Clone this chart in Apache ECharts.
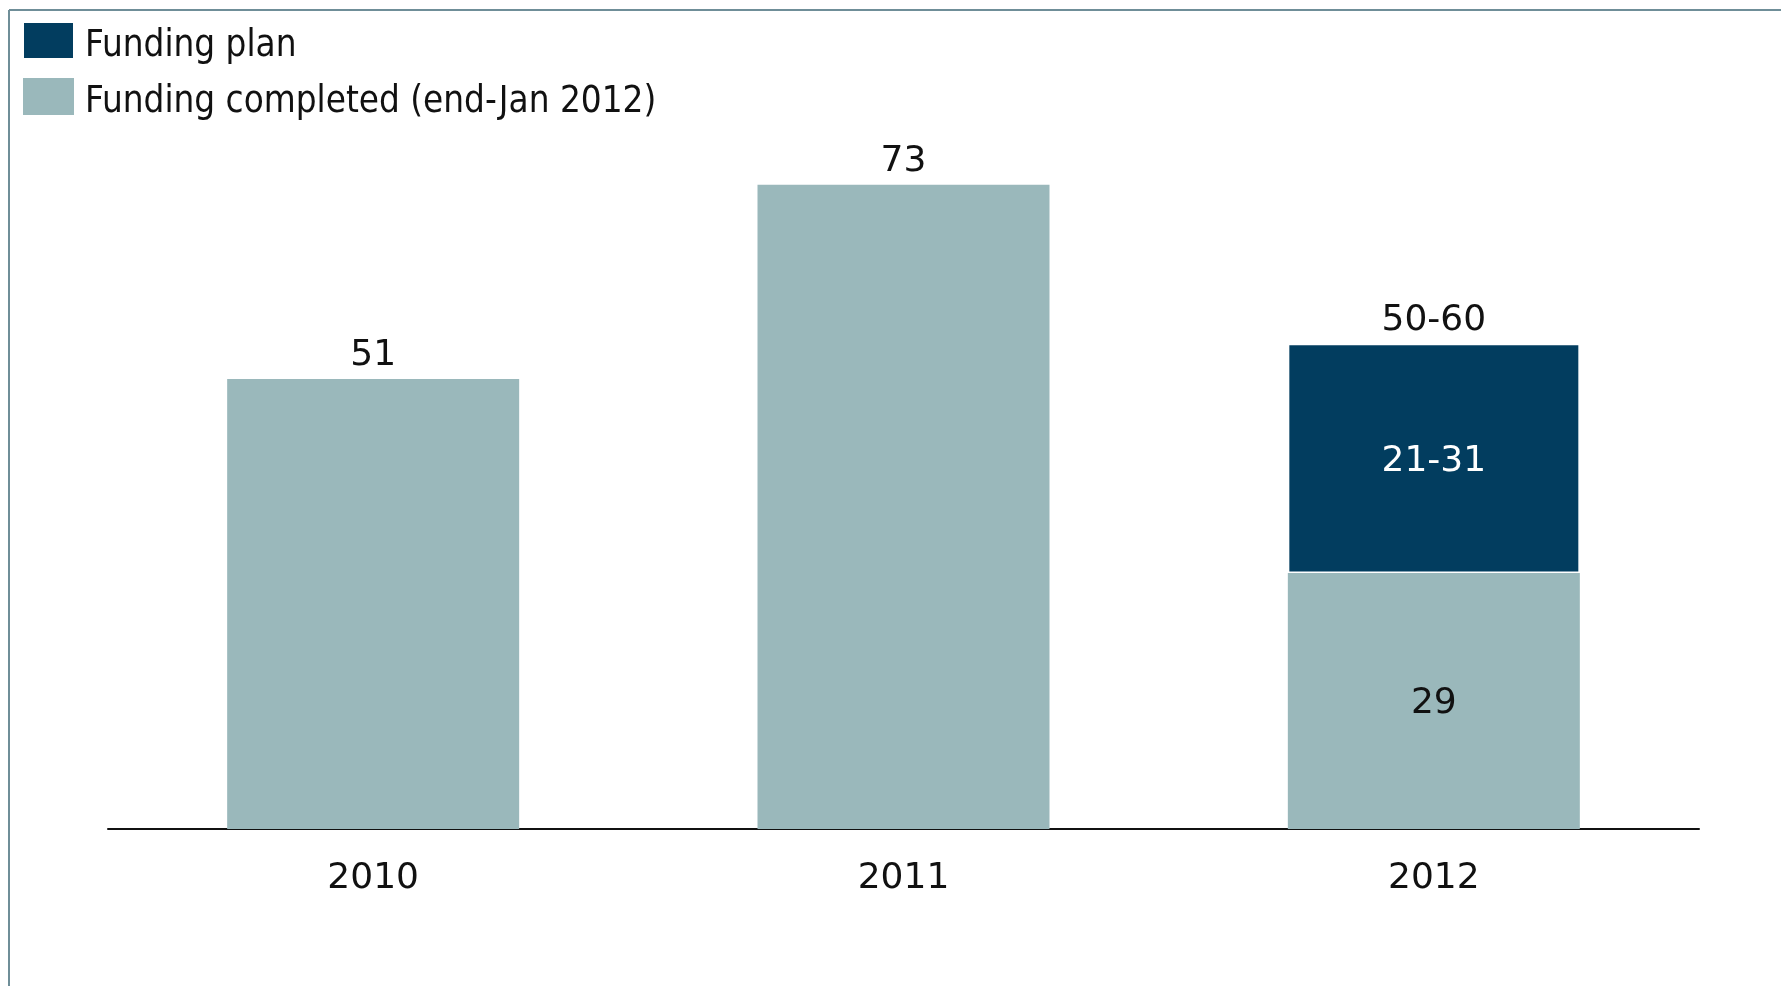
<!DOCTYPE html>
<html>
<head>
<meta charset="utf-8">
<title>Funding plan</title>
<script src="https://cdn.jsdelivr.net/npm/echarts@6/dist/echarts.min.js"></script>
<style>
  html, body { margin: 0; padding: 0; background: #ffffff; }
  #chart { width: 1781px; height: 986px; }
</style>
</head>
<body>
<div id="chart"></div>
<script>
// Years on the category axis
const years = ['2010', '2011', '2012'];
// Funding already completed (end-Jan 2012)
const completed = [51, 73, 29];
// Remaining funding planned for 2012 (range 21-31, bar drawn at 26)
const planned = [null, null, 26];
// Label texts
const completedLabels = ['51', '73', '29'];
const plannedLabels = ['', '', '21-31'];
const totalLabels = ['', '', '50-60'];

const DARK = '#023d5f';
const LIGHT = '#9ab8bb';
const NUM_FONT = '"DejaVu Sans", sans-serif';
const LEGEND_FONT = '"Liberation Sans Narrow", "DejaVu Sans Condensed", "Noto Sans", sans-serif';

const chart = echarts.init(document.getElementById('chart'), null, { renderer: 'canvas' });

const completedData = completed.map((v, i) => ({
  value: v,
  label: {
    show: true,
    position: i === 2 ? 'inside' : 'top',
    distance: 5,
    offset: i === 2 ? [0, 3] : [0, 0],
    formatter: () => completedLabels[i]
  }
}));

const plannedData = planned.map((v, i) => ({
  value: v,
  label: { show: v != null, position: 'inside', offset: [0, 3], formatter: () => plannedLabels[i] }
}));

// zero-height cap on the stack carrying the total range label
const totalData = totalLabels.map((t, i) => ({
  value: t ? 0 : null,
  label: { show: !!t, position: 'top', distance: 5, formatter: () => totalLabels[i] }
}));

chart.setOption({
  animation: false,
  backgroundColor: '#ffffff',
  grid: { left: 108, right: 82, top: 123, bottom: 157, containLabel: false },
  legend: {
    orient: 'vertical',
    left: 17,
    top: 11,
    itemWidth: 51,
    itemHeight: 37,
    itemGap: 7,
    icon: 'rect',
    data: ['Funding plan', 'Funding completed (end-Jan 2012)'],
    formatter: (name) => '{t|' + name + '}',
    textStyle: {
      fontFamily: LEGEND_FONT,
      fontSize: 36.5,
      color: '#111111',
      rich: {
        t: {
          fontFamily: LEGEND_FONT,
          fontSize: 36.5,
          color: '#111111',
          lineHeight: 37,
          padding: [12, 0, 0, 6]
        }
      }
    }
  },
  xAxis: {
    type: 'category',
    data: years,
    axisLine: { show: true, lineStyle: { color: '#111111', width: 2 } },
    axisTick: { show: false },
    axisLabel: { fontFamily: NUM_FONT, fontSize: 36, color: '#111111', margin: 32 }
  },
  yAxis: {
    type: 'value',
    min: 0,
    max: 80,
    show: false,
    splitLine: { show: false }
  },
  series: [
    {
      name: 'Funding completed (end-Jan 2012)',
      type: 'bar',
      stack: 'funding',
      barWidth: 292,
      itemStyle: { color: LIGHT },
      label: { fontFamily: NUM_FONT, fontSize: 36, color: '#111111' },
      data: completedData
    },
    {
      name: 'Funding plan',
      type: 'bar',
      stack: 'funding',
      barWidth: 292,
      itemStyle: { color: DARK, borderColor: '#ffffff', borderWidth: 1.5 },
      label: { fontFamily: NUM_FONT, fontSize: 36, color: '#ffffff' },
      data: plannedData
    },
    {
      name: 'total',
      type: 'bar',
      stack: 'funding',
      barWidth: 292,
      itemStyle: { color: 'transparent' },
      label: { fontFamily: NUM_FONT, fontSize: 36, color: '#111111' },
      data: totalData
    }
  ],
  graphic: [
    // frame lines along the top and left edges
    { type: 'line', shape: { x1: 9, y1: 10, x2: 1781, y2: 10 }, style: { stroke: '#6f8e98', lineWidth: 2 } },
    { type: 'line', shape: { x1: 9, y1: 10, x2: 9, y2: 986 }, style: { stroke: '#6f8e98', lineWidth: 2 } }
  ]
});
</script>
</body>
</html>
